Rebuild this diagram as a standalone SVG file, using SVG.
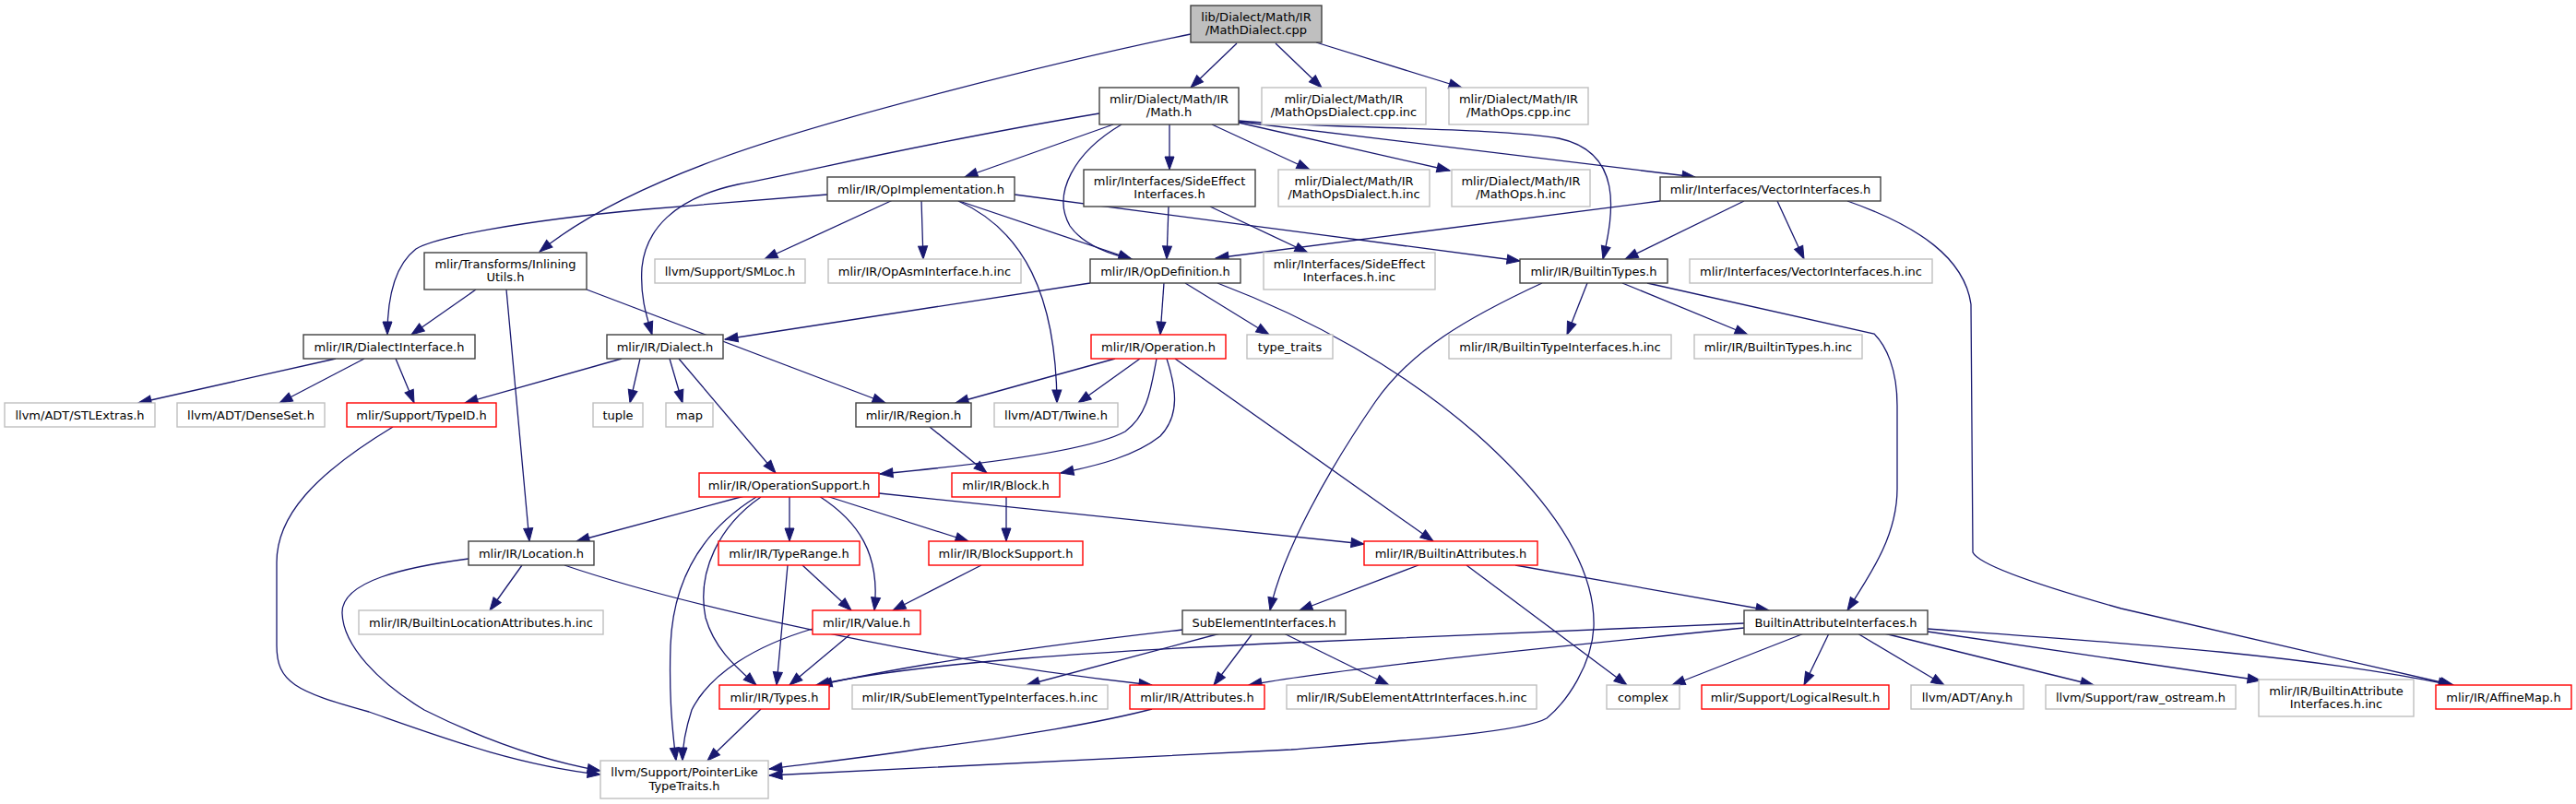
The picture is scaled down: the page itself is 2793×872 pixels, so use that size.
<svg xmlns="http://www.w3.org/2000/svg" width="2793" height="872" viewBox="0 0 2793 872">
<style>
rect{fill:#fff;stroke:#404040;stroke-width:1.4}
.g rect{stroke:#bfbfbf}
.r rect{stroke:#ff0000}
.root rect{fill:#bfbfbf}
text{font-family:"DejaVu Sans","Liberation Sans",sans-serif;font-size:13px;text-anchor:middle;fill:#000}
.e path{fill:none;stroke:#191970;stroke-width:1.3;marker-end:url(#a)}
</style>
<defs>
<marker id="a" markerUnits="userSpaceOnUse" markerWidth="15" markerHeight="11" refX="14" refY="5" orient="auto" overflow="visible">
<path d="M0,0 L14,5 L0,10 z" fill="#191970" stroke="#191970" stroke-width="1"/>
</marker>
</defs>
<rect x="0" y="0" width="2793" height="872" style="fill:#fff;stroke:none"/>
<g class="e" id="edges">
<path d="M1341,47 L1291,95"/>
<path d="M1383,47 L1433,95"/>
<path d="M1427,46 L1585,95"/>
<path d="M1291,37 C1150,66 900,128 780,172 C720,194 640,228 585,273"/>
<path d="M1207,135 L1046,192"/>
<path d="M1268,135 L1268,184"/>
<path d="M1216,135 C1165,165 1140,210 1160,245 C1172,262 1195,274 1227,281"/>
<path d="M1314,135 L1420,184"/>
<path d="M1343,133 L1572,185"/>
<path d="M1343,132 L1838,192"/>
<path d="M1343,131 C1450,140 1620,138 1690,150 C1760,165 1750,230 1738,281"/>
<path d="M1192,123 C1000,155 880,185 800,200 C730,215 700,250 696,290 C694,320 700,340 707,363"/>
<path d="M897,211 L700,227 C560,240 470,258 451,270 C425,290 420,330 420,363"/>
<path d="M968,217 L829,281"/>
<path d="M999,217 L1001,281"/>
<path d="M1037,217 L1227,281"/>
<path d="M1039,218 C1110,250 1145,320 1146,437"/>
<path d="M1100,211 L1648,283"/>
<path d="M1267,224 L1265,281"/>
<path d="M1312,224 L1418,274"/>
<path d="M1800,218 L1318,280"/>
<path d="M1891,218 L1762,281"/>
<path d="M1927,218 L1956,281"/>
<path d="M2003,218 C2080,245 2130,280 2137,330 L2139,599 C2145,612 2200,632 2300,660 L2660,743"/>
<path d="M1182,307 L786,368"/>
<path d="M1262,307 L1258,363"/>
<path d="M1285,307 L1376,363"/>
<path d="M1320,307 C1420,345 1520,400 1600,470 C1690,550 1730,620 1728,680 C1726,720 1700,760 1677,779 C1650,795 1500,805 1400,813 L834,841"/>
<path d="M1209,389 L1036,437"/>
<path d="M1236,389 L1169,437"/>
<path d="M1254,389 C1248,420 1245,450 1220,468 C1180,490 1050,505 954,514"/>
<path d="M1265,389 C1275,420 1280,450 1258,473 C1230,495 1190,505 1150,513"/>
<path d="M1274,389 L1554,587"/>
<path d="M1008,463 L1070,513"/>
<path d="M674,389 L504,437"/>
<path d="M694,389 L683,437"/>
<path d="M726,389 L740,437"/>
<path d="M736,389 L841,513"/>
<path d="M516,314 L446,363"/>
<path d="M549,314 L574,587"/>
<path d="M636,314 L960,437"/>
<path d="M364,389 L150,437"/>
<path d="M395,389 L303,437"/>
<path d="M429,389 L449,437"/>
<path d="M426,463 C340,515 300,560 300,610 L300,700 C300,740 320,750 400,772 C480,800 560,830 651,840"/>
<path d="M566,613 L531,662"/>
<path d="M508,606 C440,615 370,630 371,665 C372,700 410,740 460,770 C530,805 590,825 651,836"/>
<path d="M612,613 C700,643 950,710 1249,743"/>
<path d="M807,538 L625,587"/>
<path d="M820,539 C770,570 730,620 727,700 C725,760 730,800 733,825"/>
<path d="M825,539 C780,570 755,620 765,670 C775,705 800,725 820,743"/>
<path d="M856,538 L856,587"/>
<path d="M888,538 C930,565 955,600 948,662"/>
<path d="M896,538 L1050,587"/>
<path d="M953,535 L1479,590"/>
<path d="M1091,538 L1091,587"/>
<path d="M854,613 L842,743"/>
<path d="M870,613 L923,662"/>
<path d="M1064,613 L968,662"/>
<path d="M923,687 L856,743"/>
<path d="M881,682 C820,700 770,730 750,770 C742,795 740,810 740,825"/>
<path d="M825,769 L767,825"/>
<path d="M1249,769 C1200,782 1100,800 1000,812 C950,820 880,828 834,834"/>
<path d="M1282,683 C1150,698 1000,718 888,743"/>
<path d="M1323,687 L1113,743"/>
<path d="M1358,687 L1316,743"/>
<path d="M1392,687 L1506,743"/>
<path d="M1672,307 C1590,345 1530,380 1491,436 C1440,510 1390,600 1377,662"/>
<path d="M1721,307 L1699,363"/>
<path d="M1759,307 L1895,363"/>
<path d="M1786,307 L2032,362 C2045,375 2057,400 2057,440 L2057,530 C2057,580 2030,620 2003,662"/>
<path d="M1538,613 L1409,662"/>
<path d="M1590,613 L1764,743"/>
<path d="M1643,613 L1918,662"/>
<path d="M1891,676 L1400,697 C1200,706 1000,718 885,743"/>
<path d="M1891,681 C1700,700 1450,725 1354,743"/>
<path d="M1956,687 L1813,743"/>
<path d="M1983,687 L1956,743"/>
<path d="M2014,687 L2108,743"/>
<path d="M2043,687 L2270,743"/>
<path d="M2090,685 L2451,738"/>
<path d="M2090,682 C2300,697 2500,710 2658,743"/>
</g>
<g id="n_mathdialect_cpp" class="root"><rect x="1291" y="6" width="142" height="40"/><text x="1362" y="22.5">lib/Dialect/Math/IR</text><text x="1362" y="37">/MathDialect.cpp</text></g>
<g id="n_math_h"><rect x="1192" y="95" width="151" height="40"/><text x="1267.5" y="111.5">mlir/Dialect/Math/IR</text><text x="1267.5" y="126">/Math.h</text></g>
<g id="n_mathopsdialect_cpp_inc" class="g"><rect x="1368" y="95" width="178" height="40"/><text x="1457" y="111.5">mlir/Dialect/Math/IR</text><text x="1457" y="126">/MathOpsDialect.cpp.inc</text></g>
<g id="n_mathops_cpp_inc" class="g"><rect x="1571" y="95" width="151" height="40"/><text x="1646.5" y="111.5">mlir/Dialect/Math/IR</text><text x="1646.5" y="126">/MathOps.cpp.inc</text></g>
<g id="n_inliningutils"><rect x="460" y="274" width="176" height="40"/><text x="548" y="290.5">mlir/Transforms/Inlining</text><text x="548" y="305">Utils.h</text></g>
<g id="n_opimplementation"><rect x="897" y="192" width="203" height="26"/><text x="998.5" y="209.5">mlir/IR/OpImplementation.h</text></g>
<g id="n_sideeffectinterfaces"><rect x="1175" y="184" width="186" height="40"/><text x="1268" y="200.5">mlir/Interfaces/SideEffect</text><text x="1268" y="215">Interfaces.h</text></g>
<g id="n_mathopsdialect_h_inc" class="g"><rect x="1386" y="184" width="164" height="40"/><text x="1468" y="200.5">mlir/Dialect/Math/IR</text><text x="1468" y="215">/MathOpsDialect.h.inc</text></g>
<g id="n_mathops_h_inc" class="g"><rect x="1574" y="184" width="150" height="40"/><text x="1649" y="200.5">mlir/Dialect/Math/IR</text><text x="1649" y="215">/MathOps.h.inc</text></g>
<g id="n_vectorinterfaces"><rect x="1800" y="192" width="239" height="26"/><text x="1919.5" y="209.5">mlir/Interfaces/VectorInterfaces.h</text></g>
<g id="n_smloc" class="g"><rect x="710" y="281" width="163" height="26"/><text x="791.5" y="298.5">llvm/Support/SMLoc.h</text></g>
<g id="n_opasminterface" class="g"><rect x="898" y="281" width="209" height="26"/><text x="1002.5" y="298.5">mlir/IR/OpAsmInterface.h.inc</text></g>
<g id="n_opdefinition"><rect x="1182" y="281" width="163" height="26"/><text x="1263.5" y="298.5">mlir/IR/OpDefinition.h</text></g>
<g id="n_sideeffectinterfaces_inc" class="g"><rect x="1370" y="274" width="186" height="40"/><text x="1463" y="290.5">mlir/Interfaces/SideEffect</text><text x="1463" y="305">Interfaces.h.inc</text></g>
<g id="n_builtintypes"><rect x="1648" y="281" width="160" height="26"/><text x="1728" y="298.5">mlir/IR/BuiltinTypes.h</text></g>
<g id="n_vectorinterfaces_inc" class="g"><rect x="1832" y="281" width="263" height="26"/><text x="1963.5" y="298.5">mlir/Interfaces/VectorInterfaces.h.inc</text></g>
<g id="n_dialectinterface"><rect x="329" y="363" width="186" height="26"/><text x="422" y="380.5">mlir/IR/DialectInterface.h</text></g>
<g id="n_dialect"><rect x="658" y="363" width="126" height="26"/><text x="721" y="380.5">mlir/IR/Dialect.h</text></g>
<g id="n_operation" class="r"><rect x="1183" y="363" width="146" height="26"/><text x="1256" y="380.5">mlir/IR/Operation.h</text></g>
<g id="n_type_traits" class="g"><rect x="1352" y="363" width="93" height="26"/><text x="1398.5" y="380.5">type_traits</text></g>
<g id="n_builtintypeinterfaces_inc" class="g"><rect x="1571" y="363" width="241" height="26"/><text x="1691.5" y="380.5">mlir/IR/BuiltinTypeInterfaces.h.inc</text></g>
<g id="n_builtintypes_inc" class="g"><rect x="1837" y="363" width="182" height="26"/><text x="1928" y="380.5">mlir/IR/BuiltinTypes.h.inc</text></g>
<g id="n_stlextras" class="g"><rect x="5" y="437" width="163" height="26"/><text x="86.5" y="454.5">llvm/ADT/STLExtras.h</text></g>
<g id="n_denseset" class="g"><rect x="192" y="437" width="160" height="26"/><text x="272" y="454.5">llvm/ADT/DenseSet.h</text></g>
<g id="n_typeid" class="r"><rect x="376" y="437" width="162" height="26"/><text x="457" y="454.5">mlir/Support/TypeID.h</text></g>
<g id="n_tuple" class="g"><rect x="643" y="437" width="54" height="26"/><text x="670" y="454.5">tuple</text></g>
<g id="n_map" class="g"><rect x="722" y="437" width="51" height="26"/><text x="747.5" y="454.5">map</text></g>
<g id="n_region"><rect x="928" y="437" width="125" height="26"/><text x="990.5" y="454.5">mlir/IR/Region.h</text></g>
<g id="n_twine" class="g"><rect x="1078" y="437" width="134" height="26"/><text x="1145" y="454.5">llvm/ADT/Twine.h</text></g>
<g id="n_operationsupport" class="r"><rect x="758" y="513" width="195" height="26"/><text x="855.5" y="530.5">mlir/IR/OperationSupport.h</text></g>
<g id="n_block" class="r"><rect x="1032" y="513" width="117" height="26"/><text x="1090.5" y="530.5">mlir/IR/Block.h</text></g>
<g id="n_location"><rect x="508" y="587" width="136" height="26"/><text x="576" y="604.5">mlir/IR/Location.h</text></g>
<g id="n_typerange" class="r"><rect x="779" y="587" width="153" height="26"/><text x="855.5" y="604.5">mlir/IR/TypeRange.h</text></g>
<g id="n_blocksupport" class="r"><rect x="1007" y="587" width="167" height="26"/><text x="1090.5" y="604.5">mlir/IR/BlockSupport.h</text></g>
<g id="n_builtinattributes" class="r"><rect x="1479" y="587" width="188" height="26"/><text x="1573" y="604.5">mlir/IR/BuiltinAttributes.h</text></g>
<g id="n_builtinlocationattributes_inc" class="g"><rect x="389" y="662" width="265" height="26"/><text x="521.5" y="679.5">mlir/IR/BuiltinLocationAttributes.h.inc</text></g>
<g id="n_value" class="r"><rect x="881" y="662" width="117" height="26"/><text x="939.5" y="679.5">mlir/IR/Value.h</text></g>
<g id="n_subelementinterfaces"><rect x="1282" y="662" width="177" height="26"/><text x="1370.5" y="679.5">SubElementInterfaces.h</text></g>
<g id="n_builtinattributeinterfaces"><rect x="1891" y="662" width="199" height="26"/><text x="1990.5" y="679.5">BuiltinAttributeInterfaces.h</text></g>
<g id="n_types" class="r"><rect x="780" y="743" width="119" height="26"/><text x="839.5" y="760.5">mlir/IR/Types.h</text></g>
<g id="n_subelementtypeinterfaces_inc" class="g"><rect x="924" y="743" width="277" height="26"/><text x="1062.5" y="760.5">mlir/IR/SubElementTypeInterfaces.h.inc</text></g>
<g id="n_attributes" class="r"><rect x="1225" y="743" width="146" height="26"/><text x="1298" y="760.5">mlir/IR/Attributes.h</text></g>
<g id="n_subelementattrinterfaces_inc" class="g"><rect x="1395" y="743" width="271" height="26"/><text x="1530.5" y="760.5">mlir/IR/SubElementAttrInterfaces.h.inc</text></g>
<g id="n_complex" class="g"><rect x="1742" y="743" width="79" height="26"/><text x="1781.5" y="760.5">complex</text></g>
<g id="n_logicalresult" class="r"><rect x="1845" y="743" width="203" height="26"/><text x="1946.5" y="760.5">mlir/Support/LogicalResult.h</text></g>
<g id="n_any" class="g"><rect x="2072" y="743" width="122" height="26"/><text x="2133" y="760.5">llvm/ADT/Any.h</text></g>
<g id="n_raw_ostream" class="g"><rect x="2218" y="743" width="206" height="26"/><text x="2321" y="760.5">llvm/Support/raw_ostream.h</text></g>
<g id="n_builtinattributeinterfaces_inc" class="g"><rect x="2449" y="737" width="168" height="40"/><text x="2533" y="753.5">mlir/IR/BuiltinAttribute</text><text x="2533" y="768">Interfaces.h.inc</text></g>
<g id="n_affinemap" class="r"><rect x="2641" y="743" width="147" height="26"/><text x="2714.5" y="760.5">mlir/IR/AffineMap.h</text></g>
<g id="n_pointerliketypetraits" class="g"><rect x="651" y="825" width="182" height="41"/><text x="742" y="841.5">llvm/Support/PointerLike</text><text x="742" y="856.5">TypeTraits.h</text></g>
</svg>
